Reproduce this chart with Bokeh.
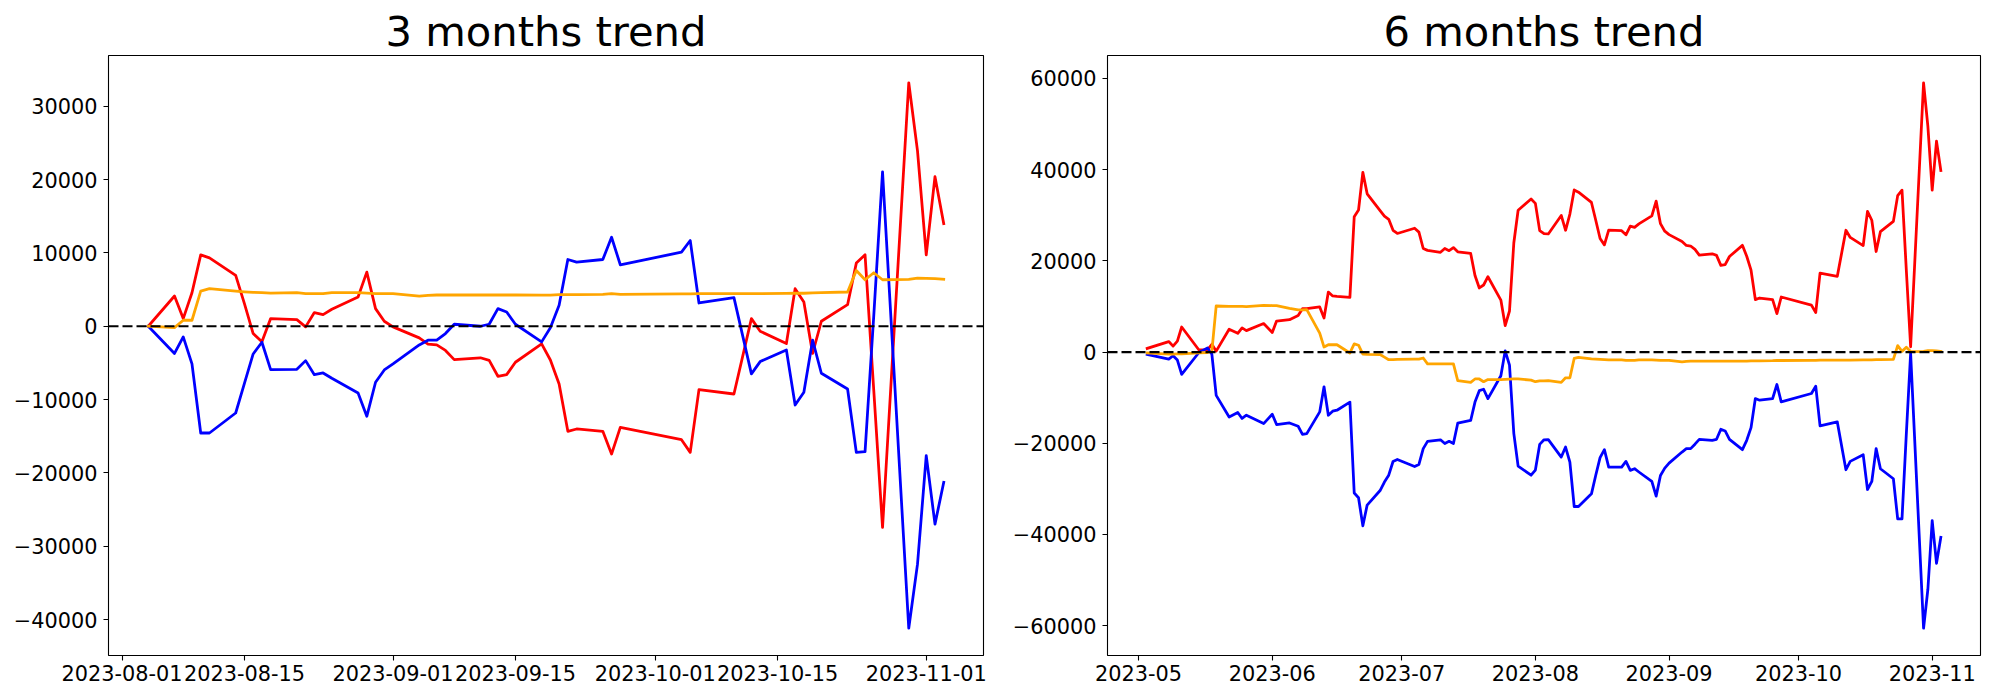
import pandas as pd
from bokeh.plotting import figure
from bokeh.layouts import row
from bokeh.models import Range1d, FixedTicker, Span
from bokeh.embed import file_html
from bokeh.resources import INLINE

# ---------------- 3 months trend ----------------
dates_3m = [
    "2023-08-04", "2023-08-07", "2023-08-08", "2023-08-09", "2023-08-10", "2023-08-11",
    "2023-08-14", "2023-08-15", "2023-08-16", "2023-08-17", "2023-08-18", "2023-08-21",
    "2023-08-22", "2023-08-23", "2023-08-24", "2023-08-25", "2023-08-28", "2023-08-29",
    "2023-08-30", "2023-08-31",
    "2023-09-01", "2023-09-04", "2023-09-05", "2023-09-06", "2023-09-07", "2023-09-08",
    "2023-09-11", "2023-09-12", "2023-09-13", "2023-09-14", "2023-09-15", "2023-09-18",
    "2023-09-19", "2023-09-20", "2023-09-21", "2023-09-22", "2023-09-25", "2023-09-26",
    "2023-09-27",
    "2023-10-04", "2023-10-05", "2023-10-06", "2023-10-10", "2023-10-12", "2023-10-13",
    "2023-10-16", "2023-10-17", "2023-10-18", "2023-10-19", "2023-10-20", "2023-10-23",
    "2023-10-24", "2023-10-25", "2023-10-26", "2023-10-27", "2023-10-30", "2023-10-31",
    "2023-11-01", "2023-11-02", "2023-11-03",
]
red_3m = [
    0, 4120, 1040, 4575, 9740, 9330, 6930, 3080, -1000, -2130, 1040, 906, -90, 1860, 1590,
    2310, 3990, 7380, 2400, 680,
    -90, -1590, -2450, -2550, -3300, -4550, -4300, -4650, -6825, -6600, -4910, -2410, -4600,
    -7870, -14330, -14010, -14330, -17430, -13790,
    -15470, -17200, -8645, -9240, 1040, -680, -2360, 5120, 3310, -3710, 680, 2940, 8610,
    9740, -8800, -27440, 33200, 23920,
    9740, 20390, 13980,
]
blue_3m = [
    0, -3710, -1450, -5140, -14560, -14560, -11830, -7780, -3780, -2180, -5920, -5870, -4690,
    -6600, -6370, -7100, -9100, -12280, -7640, -5960,
    -5140, -2550, -1900, -1900, -1000, 270, 0, 270, 2400, 1950, 270, -2130, -200, 2850, 9100,
    8740, 9100, 12140, 8380,
    10100, 11690, 3170, 3900, -6500, -4820, -3230, -10740, -9010, -1900, -6410, -8550,
    -17200, -17100, 1500, 21060, -41180, -32440,
    -17650, -26980, -21290,
]
orange_3m = [
    0, -180, 815, 815, 4800, 5120, 4800, 4700, 4620, 4580, 4530, 4570, 4440, 4440, 4440,
    4570, 4570, 4530, 4440, 4440,
    4440, 4120, 4210, 4260, 4260, 4260, 4260, 4260, 4260, 4260, 4260, 4250, 4250, 4300, 4300,
    4300, 4350, 4440, 4350,
    4400, 4400, 4450, 4450, 4450, 4450, 4480, 4500, 4500, 4550, 4570, 4670, 7610, 6340, 7290,
    6340, 6390, 6570,
    6520, 6480, 6390,
]
xticks_3m = ["2023-08-01", "2023-08-15", "2023-09-01", "2023-09-15",
             "2023-10-01", "2023-10-15", "2023-11-01"]
xlabels_3m = ["2023-08-01", "2023-08-15", "2023-09-01", "2023-09-15",
              "2023-10-01", "2023-10-15", "2023-11-01"]
yticks_3m = [-40000, -30000, -20000, -10000, 0, 10000, 20000, 30000]

# ---------------- 6 months trend ----------------
dates_6m = [
    "2023-05-03", "2023-05-08", "2023-05-09", "2023-05-10", "2023-05-11", "2023-05-15",
    "2023-05-17", "2023-05-18", "2023-05-19", "2023-05-22", "2023-05-24", "2023-05-25",
    "2023-05-26", "2023-05-30",
    "2023-06-01", "2023-06-02", "2023-06-05", "2023-06-07", "2023-06-08", "2023-06-09",
    "2023-06-12", "2023-06-13", "2023-06-14", "2023-06-15", "2023-06-16", "2023-06-19",
    "2023-06-20", "2023-06-21", "2023-06-22", "2023-06-23", "2023-06-26", "2023-06-27",
    "2023-06-28", "2023-06-29", "2023-06-30",
    "2023-07-04", "2023-07-05", "2023-07-06", "2023-07-07", "2023-07-10", "2023-07-11",
    "2023-07-12", "2023-07-13", "2023-07-14", "2023-07-17", "2023-07-18", "2023-07-19",
    "2023-07-20", "2023-07-21", "2023-07-24", "2023-07-25", "2023-07-26", "2023-07-27",
    "2023-07-28", "2023-07-31",
    "2023-08-01", "2023-08-02", "2023-08-03",
] + dates_3m
red_6m = [
    800, 2300, 1300, 2400, 5500, 450, 550, 1700, 200, 5000, 4100, 5300, 4700, 6250,
    4300, 6800, 7100, 8000, 9500, 9500, 9900, 7450, 13150, 12300, 12200, 12000, 29650,
    31150, 39400, 34700, 31000, 29800, 29100, 26700, 26000,
    27150, 26300, 22700, 22300, 21870, 22700, 22230, 22900, 21970, 21630, 16800, 14050,
    14700, 16520, 11400, 5800, 9000, 23900, 31100, 33550,
    32600, 26630, 25950,
    25900, 29950, 26700, 30250, 35550, 35050, 32800, 28900, 24900, 23500, 26750, 26600,
    25700, 27600, 27350, 28100, 29850, 33100, 28150, 26500,
    25750, 24250, 23380, 23250, 22500, 21250, 21550, 21200, 19000, 19150, 20950, 23400,
    21000, 17950, 11500, 11850, 11500, 8440, 12070,
    10300, 8660, 17300, 16600, 26700, 25130, 23350, 30850, 28900, 22050, 26400, 28650,
    34300, 35500, 18000, 1160, 59040, 49500,
    35500, 46250, 39800,
]
blue_6m = [
    -510, -1540, -810, -1760, -4910, -100, 900, -500, -9500, -14250, -13250, -14560,
    -13850, -15690,
    -13630, -15900, -15540, -16270, -18030, -17890, -13120, -7620, -13850, -12970, -12750,
    -10970, -30900, -31930, -38100, -33550, -30360, -28500, -27000, -24000, -23550,
    -25100, -24630, -21180, -19580, -19240, -20060, -19580, -20060, -15600, -15000, -10970,
    -8460, -8160, -10220, -5200, 260, -2850, -17820, -25000, -27000,
    -25870, -20250, -19240,
    -19200, -23020, -20820, -24120, -33860, -33860, -31080, -27000, -23160, -21400, -25220,
    -25220, -23970, -25950, -25580, -26300, -28370, -31590, -27050, -25440,
    -24340, -21920, -21180, -21180, -20200, -19130, -19350, -19130, -16930, -17300, -19130,
    -21400, -19350, -16570, -10190, -10560, -10190, -7110, -10920,
    -9090, -7480, -16200, -15320, -25800, -23970, -22500, -30130, -28370, -21180, -25580,
    -27780, -36580, -36580, -18000, -290, -60550, -52000,
    -36940, -46330, -40610,
]
orange_6m = [
    -200, -450, -450, -400, -400, -200, -100, 200, 10100, 10000, 10000, 10000, 9970, 10250,
    10200, 10200, 9600, 9250, 9250, 9300, 4150, 1100, 1600, 1600, 1600, -200, 1800, 1500,
    -450, -500, -540, -1100, -1680, -1650, -1600,
    -1550, -1530, -1300, -2600, -2600, -2600, -2600, -2600, -6270, -6650, -5900, -5900,
    -6500, -6040, -6040, -6000, -5950, -5900, -5900, -6160,
    -6500, -6300, -6300,
    -6250, -6650, -5640, -5640, -1400, -1170, -1500, -1550, -1600, -1650, -1700, -1700,
    -1800, -1800, -1800, -1700, -1700, -1750, -1800, -1800,
    -1800, -2150, -2050, -2000, -2000, -2000, -2000, -2000, -2000, -2000, -2000, -2000,
    -2000, -1950, -1950, -1950, -1900, -1850, -1850,
    -1800, -1800, -1750, -1750, -1750, -1750, -1700, -1700, -1700, -1650, -1650, -1600,
    1400, 150, 1050, 100, 150, 300,
    300, 250, 150,
]
xticks_6m = ["2023-05-01", "2023-06-01", "2023-07-01", "2023-08-01",
             "2023-09-01", "2023-10-01", "2023-11-01"]
xlabels_6m = ["2023-05", "2023-06", "2023-07", "2023-08", "2023-09", "2023-10", "2023-11"]
yticks_6m = [-60000, -40000, -20000, 0, 20000, 40000, 60000]

FONT = "DejaVu Sans"
TICK_SIZE = "20.83px"
TITLE_SIZE = "41.67px"


def to_ms(s):
    return pd.Timestamp(s).value / 1e6


def make_fig(title, dates, red, blue, orange, xticks, xlabels, yticks,
             width, border_left, border_right):
    d = pd.to_datetime(dates)
    xspan = d.max() - d.min()
    x0 = (d.min() - xspan * 0.05).to_pydatetime()
    x1 = (d.max() + xspan * 0.05).to_pydatetime()
    allv = list(red) + list(blue) + list(orange)
    lo, hi = min(allv), max(allv)
    pad = (hi - lo) * 0.05

    p = figure(width=width, height=700, x_axis_type="datetime",
               x_range=Range1d(x0, x1), y_range=Range1d(lo - pad, hi + pad),
               output_backend="svg", toolbar_location=None,
               min_border_left=border_left, min_border_right=border_right,
               min_border_top=55, min_border_bottom=45)
    p.title.text = title
    p.title.align = "center"
    p.title.text_font = FONT
    p.title.text_font_size = TITLE_SIZE
    p.title.text_font_style = "normal"
    p.title.text_color = "black"
    p.title.standoff = 0
    p.title.offset = 0

    p.line(d, red, color="red", line_width=2.78, line_join="round", line_cap="square")
    p.line(d, blue, color="blue", line_width=2.78, line_join="round", line_cap="square")
    p.line(d, orange, color="orange", line_width=2.78, line_join="round", line_cap="square")

    p.add_layout(Span(location=0, dimension="width", line_color="black",
                      line_dash="10 4", line_width=2.2))

    p.grid.visible = False
    p.outline_line_color = "black"
    p.outline_line_width = 1.1
    p.outline_line_alpha = 1.0
    p.background_fill_color = "white"
    p.border_fill_color = "white"

    xt = [to_ms(t) for t in xticks]
    p.xaxis.ticker = FixedTicker(ticks=xt)
    p.xaxis.major_label_overrides = {v: lab for v, lab in zip(xt, xlabels)}
    p.yaxis.ticker = FixedTicker(ticks=yticks)
    p.yaxis.major_label_overrides = {v: str(v).replace("-", "\u2212") for v in yticks}

    for ax in (p.xaxis[0], p.yaxis[0]):
        ax.axis_line_color = None
        ax.major_tick_line_color = "black"
        ax.major_tick_line_width = 1.1
        ax.major_tick_in = 0
        ax.major_tick_out = 5
        ax.minor_tick_line_color = None
        ax.major_label_text_font = FONT
        ax.major_label_text_font_size = TICK_SIZE
        ax.major_label_text_color = "black"
    p.xaxis.major_label_standoff = 4
    p.yaxis.major_label_standoff = 6
    return p


p1 = make_fig("3 months trend", dates_3m, red_3m, blue_3m, orange_3m,
              xticks_3m, xlabels_3m, yticks_3m, 1000, 108, 17)
p2 = make_fig("6 months trend", dates_6m, red_6m, blue_6m, orange_6m,
              xticks_6m, xlabels_6m, yticks_6m, 1000, 107, 20)

layout = row(p1, p2)
open("out.html", "w").write(file_html(layout, INLINE))
